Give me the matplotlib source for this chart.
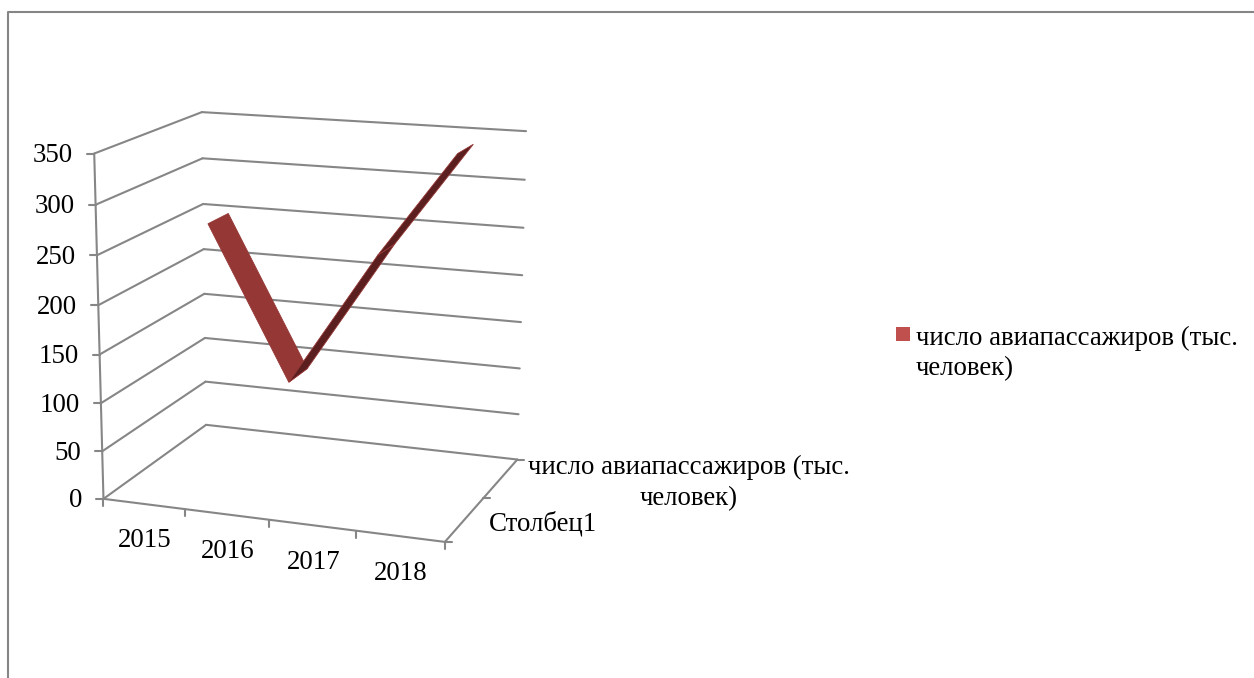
# -*- coding: utf-8 -*-
# 3D line chart (Excel style) drawn on a flat axes with a fitted camera
import numpy as np
import matplotlib
matplotlib.use('Agg')
import matplotlib.pyplot as plt
from matplotlib.patches import Polygon, Rectangle

plt.rcParams['font.family'] = ['Liberation Serif', 'DejaVu Serif']

years = ['2015', '2016', '2017', '2018']
passengers = [250, 88, 231, 340]
value_ticks = [0, 50, 100, 150, 200, 250, 300, 350]
legend_lines = ['число авиапассажиров (тыс.', 'человек)']
depth_labels = ['Столбец1', 'число авиапассажиров (тыс.\nчеловек)']

GRID = '#868686'
TOP = '#953735'
UNDER = '#5a1f1e'
FS = 19.4

# box corners: (x, value, depth) -> pixel
world = [(0, 0, 0), (0, 350, 0), (0, 0, 1), (0, 350, 1), (1, 0, 1), (1, 350, 1),
         (1, 0, 0), (0, 100, 1), (1, 100, 1), (0, 100, 0)]
pixel = [(103.5, 499.5), (94, 154), (206, 425), (202, 112), (517, 459), (526, 131),
         (445, 542), (205, 338), (520, 369), (101, 402)]

# where the ribbon sits along the category axis
ribbon_x = [0.125, 0.375, 0.645, 0.875]


def fit_camera(world, pixel):
    rows, rhs = [], []
    for (x, y, z), (u, v) in zip(world, pixel):
        y = y / 350
        rows.append([x, y, z, 1, 0, 0, 0, 0, -u * x, -u * y, -u * z])
        rhs.append(u)
        rows.append([0, 0, 0, 0, x, y, z, 1, -v * x, -v * y, -v * z])
        rhs.append(v)
    p = np.linalg.lstsq(np.array(rows), np.array(rhs), rcond=None)[0]
    return np.append(p, 1).reshape(3, 4)


CAM = fit_camera(world, pixel)


def proj(x, y, z):
    h = CAM @ np.array([x, y / 350, z, 1])
    return h[0] / h[2], h[1] / h[2]


fig = plt.figure(figsize=(12.54, 6.78), dpi=100)
ax = fig.add_axes([0, 0, 1, 1])
ax.set_xlim(0, 1254)
ax.set_ylim(678, 0)
ax.axis('off')


def seg(a, b, lw=1.5):
    ax.plot([a[0], b[0]], [a[1], b[1]], color=GRID, lw=lw, solid_capstyle='round', zorder=2)


# outer chart border
ax.plot([1254, 8, 8], [12, 12, 678], color=GRID, lw=1.5, zorder=1)

# walls and floor
for v in value_ticks:
    seg(proj(0, v, 0), proj(0, v, 1))
    seg(proj(0, v, 1), proj(1, v, 1))
    p = proj(0, v, 0)
    seg(p, (p[0] - 7, p[1]))
    ax.text(p[0] - 21, p[1] + 2, str(v), ha='right', va='center', fontsize=FS)
seg(proj(0, 0, 0), proj(0, 350, 0))
seg(proj(0, 0, 0), proj(1, 0, 0))
seg(proj(1, 0, 0), proj(1, 0, 1))

# category ticks and labels
n = len(years)
for i in range(n + 1):
    p = proj(i / n, 0, 0)
    seg(p, (p[0], p[1] + 7))
for i, year in enumerate(years):
    p = proj((i + 0.5) / n, 0, 0)
    ax.text(p[0] + 1, p[1] + 37, year, ha='center', va='center', fontsize=FS)

# depth ticks and labels
for z in [0, 0.5, 1]:
    p = proj(1, 0, z)
    seg(p, (p[0] + 7, p[1]))
ax.text(543, 524, depth_labels[0], ha='center', va='center', fontsize=FS)
ax.text(689, 483, depth_labels[1], ha='center', va='center', fontsize=FS, linespacing=1.3)

# ribbon
z0, z1 = 0.65, 0.86
for i in range(n - 1):
    xa, xb = ribbon_x[i], ribbon_x[i + 1]
    a, b = passengers[i], passengers[i + 1]
    pts = [proj(xa, a, z0), proj(xa, a, z1), proj(xb, b, z1), proj(xb, b, z0)]
    falling = b < a
    ax.add_patch(Polygon(pts, closed=True, facecolor=TOP if falling else UNDER,
                         edgecolor=TOP, lw=0.6, zorder=3))

# legend
ax.add_patch(Rectangle((896, 327), 14, 14, facecolor='#C0504D', edgecolor='none'))
ax.text(916, 338, legend_lines[0], ha='left', va='center', fontsize=FS)
ax.text(916, 369, legend_lines[1], ha='left', va='center', fontsize=FS)

fig.savefig('out.png', dpi=100)
